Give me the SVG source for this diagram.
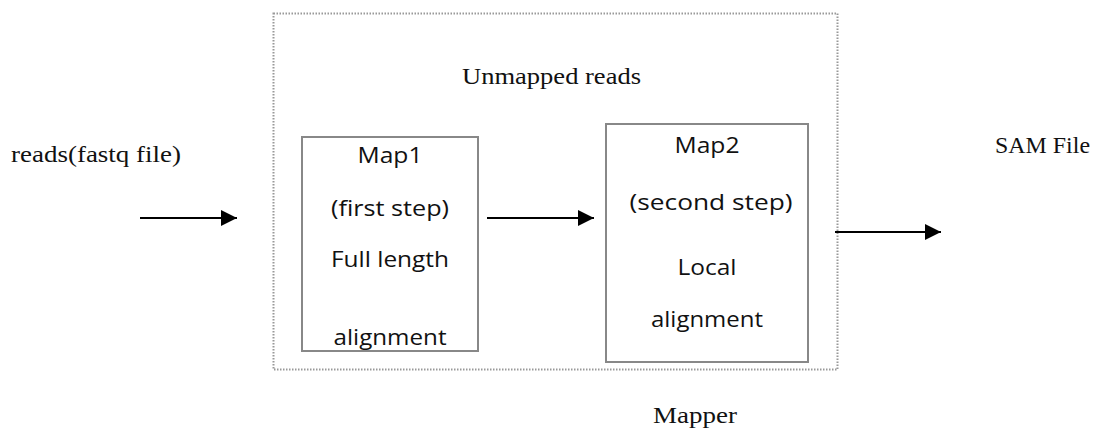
<svg xmlns="http://www.w3.org/2000/svg" width="1107" height="435" viewBox="0 0 1107 435">
<style>
.serif{font-family:"Liberation Serif","DejaVu Serif",serif;font-size:23px;fill:#111}
.sans{font-family:"Open Sans","Noto Sans","Liberation Sans",sans-serif;font-size:22px;fill:#111;text-anchor:middle}
.box{fill:#fff;stroke:#888;stroke-width:2}
.edge{stroke:#000;stroke-width:2;fill:none}
</style>
<defs>
<marker id="ah" markerWidth="8" markerHeight="8" refX="8" refY="4" orient="auto" markerUnits="strokeWidth">
<path d="M0,0 L8,4 L0,8 Z" fill="#000"/>
</marker>
</defs>
<rect width="1107" height="435" fill="#fff"/>
<g id="mapper">
<rect x="273.5" y="13.5" width="564" height="356" fill="none" stroke="#999" stroke-width="2" stroke-dasharray="1.5,1.5"/>
<text class="serif" x="462" y="84" textLength="179" lengthAdjust="spacingAndGlyphs">Unmapped reads</text>
<text class="serif" x="653" y="423" textLength="84" lengthAdjust="spacingAndGlyphs">Mapper</text>
</g>
<g id="input">
<text class="serif" x="11" y="162" textLength="170" lengthAdjust="spacingAndGlyphs">reads(fastq file)</text>
</g>
<g id="output">
<text class="serif" x="995" y="153" textLength="95" lengthAdjust="spacingAndGlyphs">SAM File</text>
</g>
<g id="map1">
<rect class="box" x="302" y="137" width="176" height="214"/>
<text class="sans" x="390" y="163" textLength="65" lengthAdjust="spacingAndGlyphs">Map1</text>
<text class="sans" x="390" y="216" textLength="118" lengthAdjust="spacingAndGlyphs">(first step)</text>
<text class="sans" x="390" y="267" textLength="118" lengthAdjust="spacingAndGlyphs">Full length</text>
<text class="sans" x="390" y="345" textLength="113" lengthAdjust="spacingAndGlyphs">alignment</text>
</g>
<g id="map2">
<rect class="box" x="606" y="124" width="202" height="238"/>
<text class="sans" x="707" y="153" textLength="65" lengthAdjust="spacingAndGlyphs">Map2</text>
<text class="sans" x="711" y="210" textLength="163" lengthAdjust="spacingAndGlyphs">(second step)</text>
<text class="sans" x="707" y="275" textLength="59" lengthAdjust="spacingAndGlyphs">Local</text>
<text class="sans" x="707" y="327" textLength="112" lengthAdjust="spacingAndGlyphs">alignment</text>
</g>
<g id="connectors">
<line class="edge" x1="140" y1="218" x2="237" y2="218" marker-end="url(#ah)"/>
<line class="edge" x1="487" y1="218" x2="594" y2="218" marker-end="url(#ah)"/>
<line class="edge" x1="835" y1="232" x2="941" y2="232" marker-end="url(#ah)"/>
</g>
</svg>
